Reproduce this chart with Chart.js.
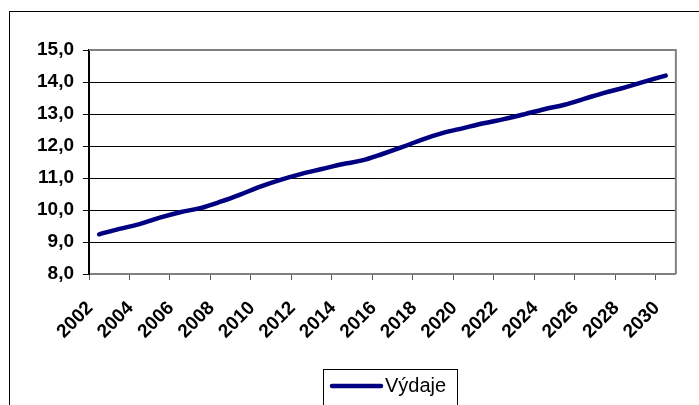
<!DOCTYPE html>
<html>
<head>
<meta charset="utf-8">
<script src="https://cdn.jsdelivr.net/npm/chart.js@4/dist/chart.umd.min.js"></script>
<style>
  html, body { margin: 0; padding: 0; background: #fff; overflow: hidden; }
  #wrap { position: relative; width: 699px; height: 405px; }
  #frame {
    position: absolute; left: 9px; top: 11px; width: 760px; height: 460px;
    border: 1px solid #000; pointer-events: none;
  }
</style>
</head>
<body>
<div id="wrap">
  <canvas id="chart"></canvas>
  <div id="frame"></div>
</div>
<script>
// ── Data ──────────────────────────────────────────────────────
const years = [
  '2002', '2003', '2004', '2005', '2006', '2007', '2008', '2009', '2010', '2011',
  '2012', '2013', '2014', '2015', '2016', '2017', '2018', '2019', '2020', '2021',
  '2022', '2023', '2024', '2025', '2026', '2027', '2028', '2029', '2030'
];
const vydaje = [
  9.24, 9.41, 9.56, 9.76, 9.93, 10.06, 10.26, 10.49, 10.74, 10.95,
  11.13, 11.28, 11.43, 11.55, 11.75, 11.97, 12.21, 12.41, 12.56, 12.71,
  12.84, 12.99, 13.15, 13.29, 13.48, 13.67, 13.83, 14.02, 14.20
];
const yMin = 8;
const yMax = 15;
const yStep = 1;

const FONT = "'Liberation Sans', Arial, sans-serif";
const NAVY = '#000080';

// ── Helpers ───────────────────────────────────────────────────
const fmtCz = v => v.toFixed(1).replace('.', ',');

// gray plot border on the top and right edges
const plotFrame = {
  id: 'plotFrame',
  beforeDatasetsDraw(chart) {
    const { ctx, chartArea: a } = chart;
    ctx.save();
    ctx.strokeStyle = '#808080';
    ctx.lineWidth = 2;
    ctx.beginPath();
    ctx.moveTo(a.left, a.top);
    ctx.lineTo(a.right, a.top);
    ctx.lineTo(a.right, a.bottom);
    ctx.stroke();
    ctx.restore();
  }
};

// boxed legend under the axis: line sample + series name
const boxedLegend = {
  id: 'boxedLegend',
  afterDraw(chart) {
    const ds = chart.data.datasets[0];
    const { ctx } = chart;
    const cy = 386;
    ctx.save();
    ctx.strokeStyle = '#000';
    ctx.lineWidth = 1;
    ctx.strokeRect(323.5, 369.5, 134, 60);

    ctx.strokeStyle = ds.borderColor;
    ctx.lineWidth = ds.borderWidth;
    ctx.lineCap = 'round';
    ctx.beginPath();
    ctx.moveTo(332, cy);
    ctx.lineTo(381, cy);
    ctx.stroke();

    ctx.fillStyle = '#000';
    ctx.font = `20px ${FONT}`;
    ctx.textBaseline = 'middle';
    ctx.textAlign = 'left';
    ctx.fillText(ds.label, 385, cy);
    ctx.restore();
  }
};

// ── Chart ─────────────────────────────────────────────────────
const ctx = document.getElementById('chart').getContext('2d');

new Chart(ctx, {
  type: 'line',
  data: {
    labels: years,
    datasets: [{
      label: 'Výdaje',
      data: vydaje,
      borderColor: NAVY,
      backgroundColor: NAVY,
      borderWidth: 4.5,
      borderCapStyle: 'round',
      borderJoinStyle: 'round',
      tension: 0.35,
      pointRadius: 0,
      fill: false
    }]
  },
  options: {
    responsive: true,
    maintainAspectRatio: false,
    animation: false,
    layout: { padding: { left: 0, right: 8, top: 50, bottom: 0 } },
    plugins: {
      tooltip: { enabled: false },
      legend: { display: false }
    },
    scales: {
      x: {
        type: 'category',
        offset: true,
        afterFit: s => { s.height = 131; },
        grid: {
          offset: true,
          drawOnChartArea: false,
          drawTicks: true,
          tickLength: 6,
          tickWidth: 1,
          tickColor: c => (c.index !== undefined && c.index % 2 === 0) ? '#555' : 'rgba(0,0,0,0)'
        },
        border: { display: true, color: '#808080', width: 2 },
        ticks: {
          autoSkip: false,
          maxRotation: 45,
          minRotation: 45,
          padding: 17,
          labelOffset: -9,
          color: '#000',
          font: { family: FONT, size: 19, weight: 'bold' },
          callback: (v, i) => (i % 2 === 0 ? years[i] : '')
        }
      },
      y: {
        min: yMin,
        max: yMax,
        afterFit: s => { s.width = 89; },
        grid: {
          color: '#000',
          lineWidth: 1,
          drawTicks: true,
          tickLength: 6
        },
        border: { display: true, color: '#000', width: 2 },
        ticks: {
          stepSize: yStep,
          padding: 9,
          color: '#000',
          font: { family: FONT, size: 19, weight: 'bold' },
          callback: v => fmtCz(v)
        }
      }
    }
  },
  plugins: [plotFrame, boxedLegend]
});
</script>
</body>
</html>
